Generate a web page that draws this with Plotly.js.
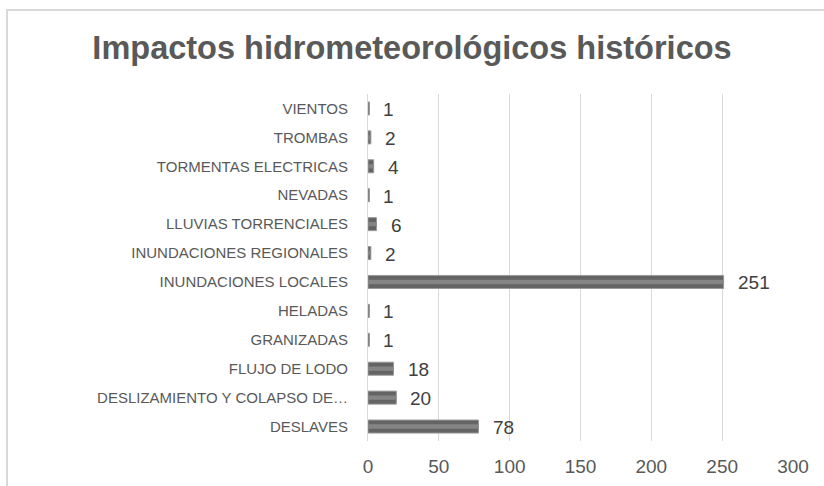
<!DOCTYPE html>
<html><head><meta charset="utf-8">
<script src="https://cdn.plot.ly/plotly-3.0.1.min.js"></script>
<style>body{margin:0;background:#fff}#c{width:824px;height:486px}</style>
</head><body><div id="c"></div>
<script>
const categories = ["DESLAVES","DESLIZAMIENTO Y COLAPSO DE…","FLUJO DE LODO","GRANIZADAS","HELADAS","INUNDACIONES LOCALES","INUNDACIONES REGIONALES","LLUVIAS TORRENCIALES","NEVADAS","TORMENTAS ELECTRICAS","TROMBAS","VIENTOS"];
const values = [78,20,18,1,1,251,2,6,1,4,2,1];
const xTicks = [0,50,100,150,200,250,300];

const fam = "Arial";
const traces = [
  {type:"bar", orientation:"h", y:categories, x:values, width:0.45,
   marker:{color:"#646464", line:{color:"#9a9a9a", width:1}}, hoverinfo:"x+y"},
  {type:"bar", orientation:"h", y:categories, x:values, width:0.15,
   marker:{color:"#858585"}, hoverinfo:"skip"}
];
const annotations = categories.map((c,i)=>({x:values[i], y:c, xref:"x", yref:"y", text:String(values[i]),
  showarrow:false, xanchor:"left", yanchor:"middle", xshift:12, yshift:-1,
  font:{family:fam, size:19, color:"#404040"}}));
const layout = {
  width:824, height:486, barmode:"overlay", showlegend:false,
  margin:{l:368, r:31, t:94, b:45},
  paper_bgcolor:"#fff", plot_bgcolor:"#fff",
  title:{text:"Impactos hidrometeorológicos históricos", x:0.5, xanchor:"center", y:0.903, yanchor:"middle",
         font:{family:fam, size:32.5, color:"#595959", weight:"bold"}},
  xaxis:{range:[0,300], tickvals:xTicks, ticktext:xTicks.map(String), showgrid:true, gridcolor:"#d9d9d9", gridwidth:1,
         zeroline:false, showline:false, ticks:"", ticklabelstandoff:12, tickfont:{family:fam, size:19, color:"#595959"}},
  yaxis:{type:"category", categoryorder:"array", categoryarray:categories, showline:true, linecolor:"#d9d9d9", linewidth:1,
         ticks:"", ticklabelstandoff:16, tickfont:{family:fam, size:15, color:"#595959"}, automargin:false},
  annotations: annotations,
  shapes:[{type:"rect", xref:"paper", yref:"paper", x0:-361/425, x1:1+60/425, y0:-80/347, y1:1+84/347,
           line:{color:"#d9d9d9", width:2}, fillcolor:"rgba(0,0,0,0)"}]
};
Plotly.newPlot("c", traces, layout, {staticPlot:true});
</script></body></html>
